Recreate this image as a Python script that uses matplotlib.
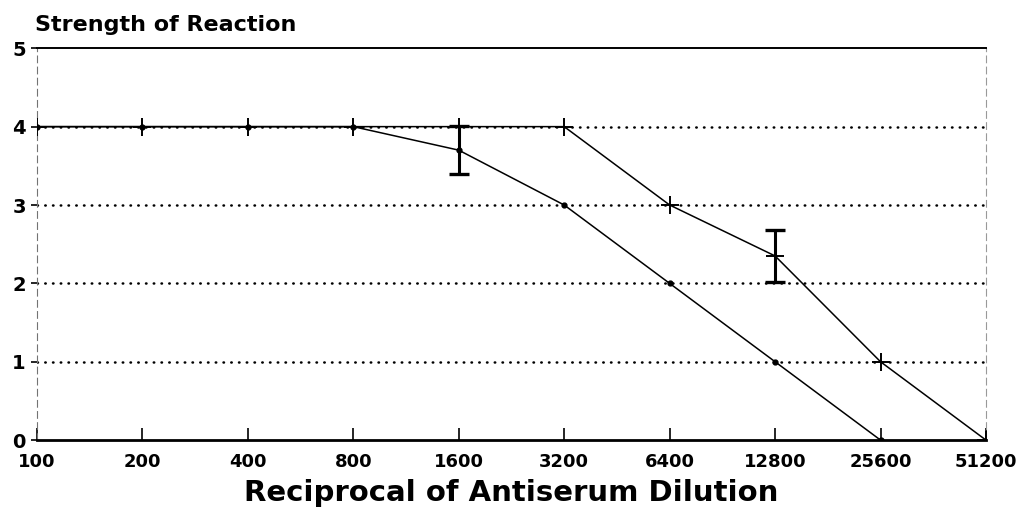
import numpy as np
import matplotlib.pyplot as plt

# reciprocal of antiserum dilution (equally spaced, doubling)
dilutions = ["100", "200", "400", "800", "1600", "3200", "6400", "12800", "25600", "51200"]

# series with "+" markers
plus_vals = [4, 4, 4, 4, 4, 4, 3, 2.35, 1, 0]
# series with small dot markers (ends at 25600)
dot_vals = [4, 4, 4, 4, 3.7, 3, 2, 1, 0]

# error bars: (index, centre, half-width)
err_idx = [4, 7]
err_mid = [3.7, 2.35]
err_half = [0.31, 0.33]

plt.rcParams['font.family'] = ['DejaVu Sans']
fig = plt.figure(figsize=(10.26, 5.19), dpi=100)
ax = fig.add_axes([0.036, 0.152, 0.925, 0.755])

x = np.arange(len(dilutions))

# dotted reference lines
for yv in [1, 2, 3, 4]:
    ax.plot([0, len(dilutions) - 1], [yv, yv], color="black", lw=1.8,
            linestyle=(0, (0.2, 2.9)), dash_capstyle="round", zorder=1)

ax.plot(x, plus_vals, color="black", lw=1.1, marker="+", ms=13, mew=1.4, zorder=3)
ax.plot(x[:len(dot_vals)], dot_vals, color="black", lw=1.1, marker="o", ms=3.5, zorder=3)

ax.errorbar(err_idx, err_mid, yerr=err_half, fmt="none", ecolor="black",
            elinewidth=2.2, capsize=7, capthick=2.4, zorder=4)

ax.set_xlim(0, len(dilutions) - 1)
ax.set_ylim(0, 5)
ax.set_xticks(x)
ax.set_xticklabels(dilutions, fontsize=13, fontweight="bold")
ax.set_yticks(range(6))
ax.set_yticklabels([str(v) for v in range(6)], fontsize=14, fontweight="bold")
ax.tick_params(axis="x", direction="in", length=9, width=1.2, pad=9)
ax.tick_params(axis="y", direction="out", length=4, width=1.2, pad=4)

ax.spines["bottom"].set_linewidth(2.0)
ax.spines["top"].set_linewidth(1.4)
ax.spines["left"].set_linewidth(0.8)
ax.spines["left"].set_color("0.45")
ax.spines["left"].set_linestyle((0, (6, 4)))
ax.spines["right"].set_linewidth(0.8)
ax.spines["right"].set_color("0.6")
ax.spines["right"].set_linestyle((0, (6, 4)))

ax.set_xlabel("Reciprocal of Antiserum Dilution", fontsize=21, fontweight="bold", labelpad=6)
fig.text(0.034, 0.94, "Strength of Reaction", fontsize=16, fontweight="bold")

fig.savefig("out.png", dpi=100)
